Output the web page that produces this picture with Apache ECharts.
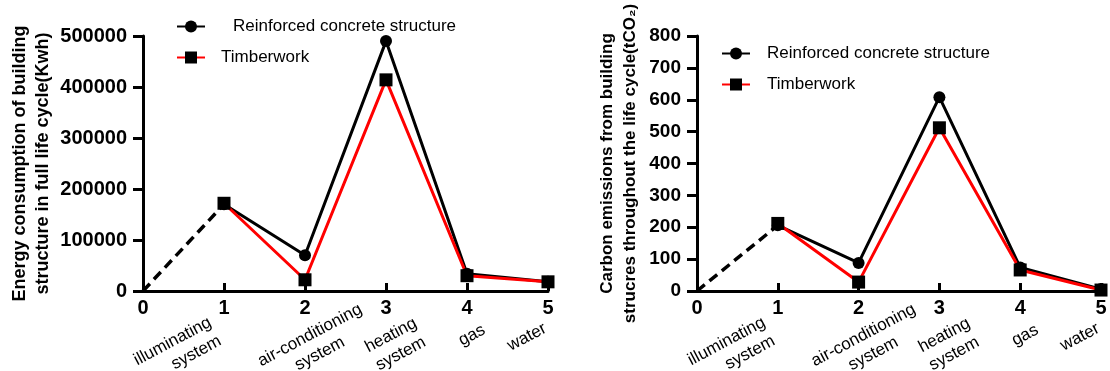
<!DOCTYPE html>
<html>
<head>
<meta charset="utf-8">
<script src="https://cdn.jsdelivr.net/npm/echarts@6/dist/echarts.min.js"></script>
<style>
  html, body { margin: 0; padding: 0; background: #fff; }
  #chart { width: 1110px; height: 371px; }
</style>
</head>
<body>
<div id="chart"></div>
<script>
// x positions of the five systems, and their names under the ticks
const positions = [1, 2, 3, 4, 5];
const systemNames = ['', 'illuminating\nsystem', 'air-conditioning\nsystem', 'heating\nsystem', 'gas', 'water'];

// energy consumption (Kwh)
const energyConcrete = [170000, 70000, 490000, 34000, 18000];
const energyTimber = [172000, 22000, 414000, 30000, 18000];

// carbon emissions (tCO2)
const carbonConcrete = [206, 88, 608, 74, 6];
const carbonTimber = [212, 28, 512, 66, 3];

const concreteName = 'Reinforced concrete structure';
const timberName = 'Timberwork';

const font = 'Arial, "Liberation Sans", sans-serif';

const pairs = (vals) => positions.map((p, i) => [p, vals[i]]);

// a few names sit a little left of their tick in the original figure
const nameShift = { 1: 10, 5: 3 };
const nameData = systemNames.map((n, i) =>
    nameShift[i] ? { value: n, textStyle: { padding: [0, nameShift[i], 0, 0] } } : n);

// numbers axis + names axis for one grid
function xAxes(grid) {
    return [{
        type: 'value', gridIndex: grid, position: 'bottom',
        min: 0, max: 5, interval: 1,
        axisLine: { lineStyle: { color: '#000', width: 3 } },
        axisTick: { inside: true, length: 8, lineStyle: { color: '#000', width: 3 } },
        splitLine: { show: false },
        axisLabel: { color: '#000', fontFamily: font, fontWeight: 'bold', fontSize: 20, margin: 7 }
    }, {
        type: 'category', gridIndex: grid, position: 'bottom',
        data: nameData, boundaryGap: false,
        axisLine: { show: false },
        axisTick: { show: false },
        splitLine: { show: false },
        axisLabel: {
            color: '#000', fontFamily: font, fontSize: 17, lineHeight: 21, interval: 0,
            rotate: 28, align: 'center', verticalAlign: 'top', margin: 35
        }
    }];
}

function yAxis(grid, max, step, name, gap, nameSize, labelSize) {
    return {
        type: 'value', gridIndex: grid, min: 0, max: max, interval: step,
        name: name, nameLocation: 'middle', nameRotate: 90, nameGap: gap,
        nameTextStyle: { color: '#000', fontFamily: font, fontWeight: 'bold', fontSize: nameSize, lineHeight: 23 },
        axisLine: { show: true, lineStyle: { color: '#000', width: 3 } },
        axisTick: { show: true, length: 10, lineStyle: { color: '#000', width: 3 } },
        splitLine: { show: false },
        axisLabel: {
            color: '#000', fontFamily: font, fontWeight: 'bold', fontSize: labelSize, margin: 16,
            formatter: v => String(v)
        }
    };
}

function seriesFor(xIdx, yIdx, concrete, timber) {
    return [{
        type: 'line', xAxisIndex: xIdx, yAxisIndex: yIdx,
        data: [[0, 0], [1, concrete[0]]],
        symbol: 'none', silent: true,
        lineStyle: { color: '#000', width: 3.5, type: [10, 6] }
    }, {
        name: concreteName, type: 'line', xAxisIndex: xIdx, yAxisIndex: yIdx,
        data: pairs(concrete),
        symbol: 'circle', symbolSize: 12,
        itemStyle: { color: '#000' },
        lineStyle: { color: '#000', width: 3 }
    }, {
        name: timberName, type: 'line', xAxisIndex: xIdx, yAxisIndex: yIdx,
        data: pairs(timber),
        symbol: 'rect', symbolSize: 13,
        itemStyle: { color: '#000' },
        lineStyle: { color: '#ff0000', width: 3 }
    }];
}

const legendBase = {
    orient: 'vertical', itemWidth: 28, itemHeight: 15, selectedMode: false,
    textStyle: { color: '#000', fontFamily: font, fontSize: 17 }
};

const option = {
    animation: false,
    backgroundColor: '#fff',
    legend: [
        Object.assign({}, legendBase, {
            data: [concreteName], left: 171, top: 13,
            textStyle: Object.assign({}, legendBase.textStyle, { padding: [0, 0, 0, 23] })
        }),
        Object.assign({}, legendBase, {
            data: [timberName], left: 171, top: 44,
            textStyle: Object.assign({}, legendBase.textStyle, { padding: [0, 0, 0, 11] })
        }),
        Object.assign({}, legendBase, {
            data: [concreteName, timberName], left: 716, top: 40, itemGap: 14,
            textStyle: Object.assign({}, legendBase.textStyle, { padding: [0, 0, 0, 12] })
        })
    ],
    grid: [
        { left: 143, right: 562, top: 36, bottom: 80, containLabel: false, outerBoundsMode: 'none' },
        { left: 697, right: 9, top: 36, bottom: 80, containLabel: false, outerBoundsMode: 'none' }
    ],
    xAxis: xAxes(0).concat(xAxes(1)),
    yAxis: [
        yAxis(0, 500000, 100000, 'Energy consumption of building\nstructure in full life cycle(Kwh)', 88, 18, 20),
        yAxis(1, 800, 100, 'Carbon emissions from building\nstrucres throughout the life cycle(tCO₂)', 55, 17, 19)
    ],
    series: seriesFor(0, 0, energyConcrete, energyTimber)
        .concat(seriesFor(2, 1, carbonConcrete, carbonTimber))
};

const chart = echarts.init(document.getElementById('chart'));
chart.setOption(option);
</script>
</body>
</html>
